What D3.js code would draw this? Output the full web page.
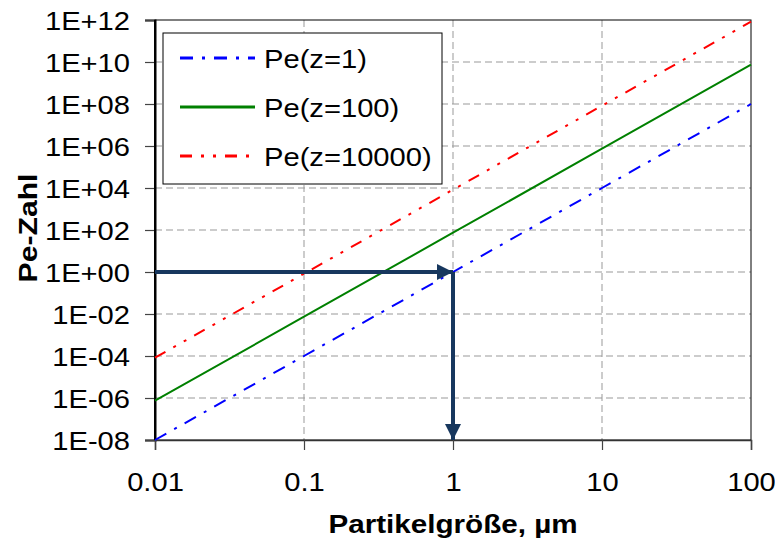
<!DOCTYPE html>
<html><head><meta charset="utf-8">
<script src="https://cdn.jsdelivr.net/npm/d3@7"></script>
<style>
body{margin:0;background:#fff}
svg{display:block}
text{font-family:"Liberation Sans",Arial,sans-serif;fill:#000}
</style></head>
<body><svg id="c" width="775" height="543"></svg>
<script>
// ---- data ----
const sizes = [0.01, 0.1, 1, 10, 100];              // Partikelgröße, µm
const peZ1 = [1e-8, 1e-4, 1, 1e4, 1e8];
const peZ100 = [7.4e-7, 7.4e-3, 74, 7.4e5, 7.4e9];
const peZ10000 = [8.3e-5, 0.83, 8300, 8.3e7, 8.3e11];
const seriesNames = ["Pe(z=1)", "Pe(z=100)", "Pe(z=10000)"];
const xTicks = [0.01, 0.1, 1, 10, 100];
const xTickLabels = ["0.01", "0.1", "1", "10", "100"];
const yTicks = [1e-8, 1e-6, 1e-4, 1e-2, 1, 1e2, 1e4, 1e6, 1e8, 1e10, 1e12];
const yTickLabels = ["1E-08", "1E-06", "1E-04", "1E-02", "1E+00", "1E+02", "1E+04", "1E+06", "1E+08", "1E+10", "1E+12"];
const arrowH = [[0.01, 1], [1, 1]];
const arrowV = [[1, 1], [1, 1e-8]];
const xTitle = "Partikelgröße, µm";
const yTitle = "Pe-Zahl";

// ---- layout ----
const W = 775, H = 543;
const m = {left: 155, right: 24, top: 20, bottom: 103};
const x = d3.scaleLog().domain([0.01, 100]).range([m.left, W - m.right]);
const y = d3.scaleLog().domain([1e-8, 1e12]).range([H - m.bottom, m.top]);
const svg = d3.select("#c");
const SX = 1.1; // horizontal stretch of the reference's text

const series = [
  {name: seriesNames[0], vals: peZ1, color: "#0000ff", dash: "13,9,3,9", width: 2},
  {name: seriesNames[1], vals: peZ100, color: "#008000", dash: null, width: 2},
  {name: seriesNames[2], vals: peZ10000, color: "#ff0000", dash: "12,9,3,9,3,9", width: 2}
];

// grid
const grid = svg.append("g").attr("stroke", "#999").attr("stroke-width", 1).attr("stroke-dasharray", "7,4");
grid.selectAll("line.h").data(yTicks.slice(1, -1)).join("line")
  .attr("x1", m.left).attr("x2", W - m.right)
  .attr("y1", d => y(d)).attr("y2", d => y(d));
grid.selectAll("line.v").data(xTicks.slice(1, -1)).join("line")
  .attr("y1", m.top).attr("y2", H - m.bottom)
  .attr("x1", d => x(d)).attr("x2", d => x(d));

// top/right border
svg.append("rect").attr("x", m.left).attr("y", m.top)
  .attr("width", W - m.right - m.left).attr("height", H - m.bottom - m.top)
  .attr("fill", "none").attr("stroke", "#000").attr("stroke-width", 1);

// axes
const yAxis = d3.axisLeft(y).tickValues(yTicks).tickFormat((d, i) => yTickLabels[i]).tickSize(10);
const gy = svg.append("g").attr("transform", `translate(${m.left},0)`).call(yAxis);
gy.select(".domain").attr("stroke", "#000").attr("stroke-width", 2);
gy.selectAll(".tick line").attr("stroke", "#444").attr("stroke-width", 1.2);
gy.selectAll(".tick text").attr("font-size", 26.5).attr("fill", "#000")
  .attr("font-family", '"Liberation Sans",Arial,sans-serif')
  .attr("x", -25 / SX).attr("dy", "0.36em").attr("transform", `scale(${SX},1)`);

const xAxis = d3.axisBottom(x).tickValues(xTicks).tickFormat((d, i) => xTickLabels[i]).tickSize(10).tickPadding(22);
const gx = svg.append("g").attr("transform", `translate(0,${H - m.bottom})`).call(xAxis);
gx.select(".domain").attr("stroke", "#333").attr("stroke-width", 1.5);
gx.selectAll(".tick line").attr("stroke", "#444").attr("stroke-width", 1.2);
gx.selectAll(".tick text").attr("font-size", 26.5).attr("fill", "#000")
  .attr("font-family", '"Liberation Sans",Arial,sans-serif').attr("transform", `scale(${SX},1)`);

// redraw left axis line on top
svg.append("line").attr("x1", m.left).attr("x2", m.left).attr("y1", m.top).attr("y2", H - m.bottom)
  .attr("stroke", "#000").attr("stroke-width", 2);

// series lines
const line = d3.line().x(d => x(d[0])).y(d => y(d[1]));
series.forEach(s => {
  svg.append("path").datum(sizes.map((d, i) => [d, s.vals[i]]))
    .attr("d", line).attr("fill", "none")
    .attr("stroke", s.color).attr("stroke-width", s.width)
    .attr("stroke-dasharray", s.dash);
});

// arrows
const aColor = "#17375e";
const defs = svg.append("defs");
defs.append("marker").attr("id", "ah").attr("markerUnits", "userSpaceOnUse")
  .attr("viewBox", "0 0 16 16").attr("refX", 16).attr("refY", 8)
  .attr("markerWidth", 16).attr("markerHeight", 16).attr("orient", "auto")
  .append("path").attr("d", "M0,0 L16,8 L0,16 Z").attr("fill", aColor);
svg.append("path").datum(arrowH).attr("d", line).attr("stroke", aColor).attr("stroke-width", 4)
  .attr("fill", "none").attr("marker-end", "url(#ah)");
svg.append("path").datum(arrowV).attr("d", line).attr("stroke", aColor).attr("stroke-width", 4)
  .attr("fill", "none").attr("marker-end", "url(#ah)");

// legend
const lg = svg.append("g");
lg.append("rect").attr("x", 163).attr("y", 33).attr("width", 279).attr("height", 151)
  .attr("fill", "#fff").attr("stroke", "#000").attr("stroke-width", 1);
const rowY = [58, 107, 156];
series.forEach((s, i) => {
  lg.append("line").attr("x1", 180).attr("x2", 255).attr("y1", rowY[i]).attr("y2", rowY[i])
    .attr("stroke", s.color).attr("stroke-width", 3).attr("stroke-dasharray", s.dash);
  lg.append("text").attr("transform", `translate(264,${rowY[i] + 9.5}) scale(${SX},1)`)
    .attr("font-size", 26.5).text(s.name);
});

// titles
svg.append("text").attr("transform", `translate(${(m.left + W - m.right) / 2},533) scale(1.14,1)`)
  .attr("text-anchor", "middle").attr("font-size", 26).attr("font-weight", "bold").text(xTitle);
svg.append("text").attr("transform", `translate(37,${(m.top + H - m.bottom) / 2 - 2}) rotate(-90) scale(1.16,1)`)
  .attr("text-anchor", "middle").attr("font-size", 26).attr("font-weight", "bold").text(yTitle);
</script></body></html>
